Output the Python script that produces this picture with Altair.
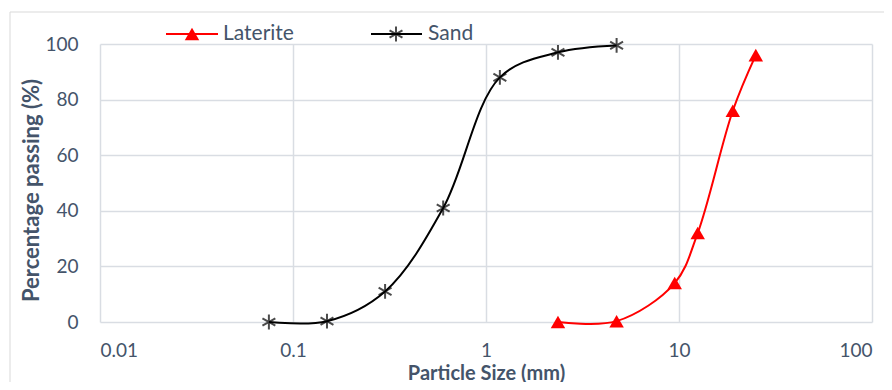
import altair as alt
import pandas as pd

sand_size = [0.075, 0.15, 0.3, 0.6, 1.18, 2.36, 4.75]
sand_pass = [0.0, 0.3, 11.0, 41.0, 88.0, 97.0, 99.5]
lat_size = [2.36, 4.75, 9.5, 12.5, 19.0, 25.0]
lat_pass = [0.0, 0.3, 14.0, 32.0, 76.0, 96.0]
x_ticks = [0.01, 0.1, 1, 10, 100]
y_ticks = [0, 20, 40, 60, 80, 100]

sand = pd.DataFrame({"size": sand_size, "pass": sand_pass, "series": "Sand"})
lat = pd.DataFrame({"size": lat_size, "pass": lat_pass, "series": "Laterite"})

FONT = "Lato"
LABEL = "#44546A"
GRID = "#D9DDE3"
ASTER = "M0,-1L0,1M-0.87,-0.5L0.87,0.5M-0.87,0.5L0.87,-0.5"

xs = alt.Scale(type="log", domain=[0.01, 100])
ys = alt.Scale(domain=[0, 100])
xax = alt.Axis(values=x_ticks, format="~g", title="Particle Size (mm)", grid=True,
               gridColor=GRID, gridWidth=1.5, domain=False, ticks=False,
               labelFontSize=19, labelColor=LABEL, labelFont=FONT, labelPadding=19,
               titleFont=FONT, titleFontSize=20, titleColor=LABEL, titleFontWeight="bold",
               titleY=51, titleBaseline="middle")
yax = alt.Axis(values=y_ticks, title="Percentage passing (%)", grid=True,
               gridColor=GRID, gridWidth=1.5, domain=False, ticks=False,
               labelFontSize=19, labelColor=LABEL, labelFont=FONT, labelPadding=22,
               titleFont=FONT, titleFontSize=22, titleColor=LABEL, titleFontWeight="bold",
               titleX=-57, titleY=146)

border = alt.Chart(pd.DataFrame({"a": [0]})).mark_rect(
    fill=None, stroke="#D9D9D9", strokeWidth=1
).encode(x=alt.value(-90), x2=alt.value(790), y=alt.value(-32), y2=alt.value(360))

sand_line = alt.Chart(sand).mark_line(color="black", strokeWidth=2, interpolate="catmull-rom").encode(
    x=alt.X("size:Q", scale=xs, axis=xax), y=alt.Y("pass:Q", scale=ys, axis=yax))
sand_pts = alt.Chart(sand).mark_point(shape=ASTER, color="black", filled=False, size=220, strokeWidth=2).encode(
    x=alt.X("size:Q", scale=xs), y=alt.Y("pass:Q", scale=ys))
lat_line = alt.Chart(lat).mark_line(color="#FF0000", strokeWidth=2, interpolate="catmull-rom").encode(
    x=alt.X("size:Q", scale=xs), y=alt.Y("pass:Q", scale=ys))
lat_pts = alt.Chart(lat).mark_point(shape="triangle-up", color="#FF0000", filled=True, opacity=1, size=210).encode(
    x=alt.X("size:Q", scale=xs), y=alt.Y("pass:Q", scale=ys))

leg = pd.DataFrame({"a": [0]})
LY = -10
leg_layers = [
    alt.Chart(leg).mark_rule(color="#FF0000", strokeWidth=2).encode(x=alt.value(66), x2=alt.value(118), y=alt.value(LY)),
    alt.Chart(leg).mark_point(shape="triangle-up", color="#FF0000", filled=True, opacity=1, size=210).encode(x=alt.value(92), y=alt.value(LY)),
    alt.Chart(leg).mark_text(text="Laterite", align="left", baseline="middle", font=FONT, fontSize=21, color=LABEL).encode(x=alt.value(123), y=alt.value(LY)),
    alt.Chart(leg).mark_rule(color="black", strokeWidth=2).encode(x=alt.value(271), x2=alt.value(322), y=alt.value(LY)),
    alt.Chart(leg).mark_point(shape=ASTER, color="black", filled=False, size=220, strokeWidth=2).encode(x=alt.value(296), y=alt.value(LY)),
    alt.Chart(leg).mark_text(text="Sand", align="left", baseline="middle", font=FONT, fontSize=21, color=LABEL).encode(x=alt.value(328), y=alt.value(LY)),
]

chart = alt.layer(border, sand_line, lat_line, sand_pts, lat_pts, *leg_layers).properties(
    width=772, height=278,
    autosize=alt.AutoSizeParams(type="none"),
    padding={"left": 92, "top": 36, "right": 12, "bottom": 60},
).configure_view(stroke=None)

chart.save("out.html", embed_options={"renderer": "svg", "actions": False})
